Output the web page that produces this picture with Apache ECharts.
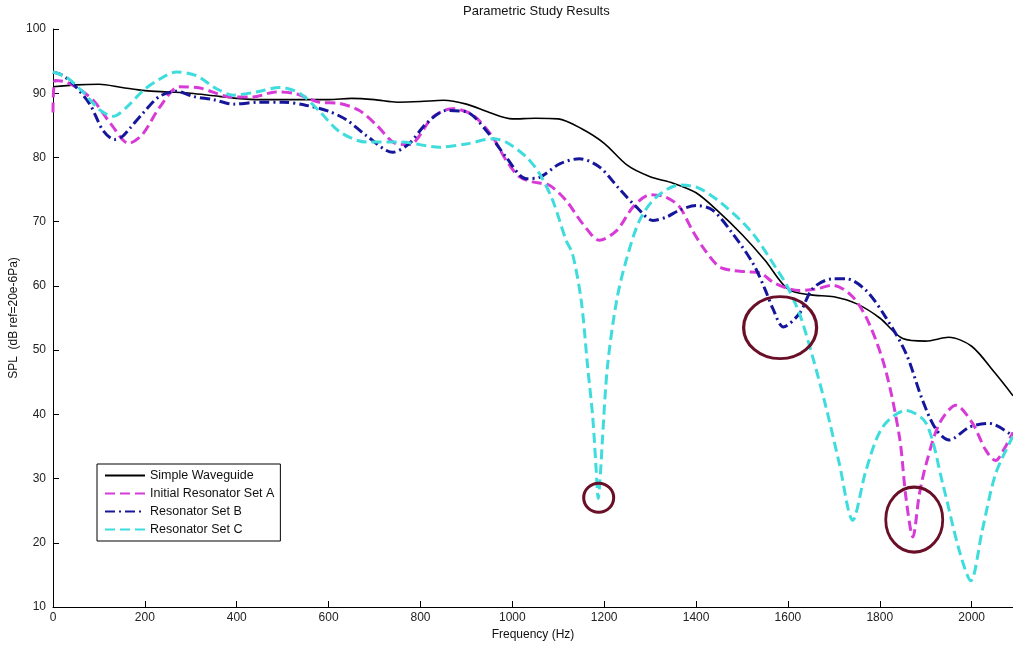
<!DOCTYPE html>
<html>
<head>
<meta charset="utf-8">
<script src="https://cdn.jsdelivr.net/npm/echarts@6/dist/echarts.min.js"></script>
<style>
html,body{margin:0;padding:0;background:#fff;}
#chart{width:1013px;height:646px;}
</style>
</head>
<body>
<div id="chart"></div>
<script>
// ---- Data ----
const seriesNames = ['Simple Waveguide', 'Initial Resonator Set A', 'Resonator Set B', 'Resonator Set C'];
const xTicks = [0, 200, 400, 600, 800, 1000, 1200, 1400, 1600, 1800, 2000];
const yTicks = [10, 20, 30, 40, 50, 60, 70, 80, 90, 100];

const freqSimple = [0,50,100,150,200,250,300,350,400,450,500,550,600,650,700,750,800,850,900,950,1000,1050,1100,1150,1200,1250,1300,1350,1400,1450,1500,1550,1600,1650,1700,1750,1800,1850,1900,1950,2000,2050,2090];
const splSimple  = [91.0,91.3,91.4,90.9,90.4,90.2,90.0,89.6,89.2,89.0,89.0,89.0,89.0,89.2,89.0,88.6,88.7,88.9,88.3,87.0,86.0,86.1,86.0,84.5,82.2,78.8,77.0,76.0,74.5,71.5,68.0,64.0,59.5,58.6,58.3,57.2,55.0,51.8,51.4,52.0,50.6,46.5,42.9];

const freqSetA = [0,5,30,60,90,125,165,195,232,275,320,390,435,485,530,580,625,667,705,745,776,827,870,914,957,986,1015,1044,1080,1117,1153,1190,1227,1263,1300,1335,1364,1393,1420,1450,1480,1510,1540,1567,1600,1625,1660,1697,1741,1777,1813,1843,1857,1872,1886,1901,1930,1966,2002,2030,2052,2070,2090];
const splSetA  = [87.0,92.0,91.7,90.5,88.7,85.3,82.2,83.6,87.8,91.0,90.8,89.4,89.4,90.2,89.9,88.6,88.4,87.3,85.0,82.2,82.0,86.3,87.6,86.6,83.2,79.6,77.0,76.2,75.7,73.3,69.7,67.1,68.6,72.3,74.2,73.8,72.3,68.5,65.5,63.0,62.4,62.2,62.0,60.6,59.6,59.3,59.5,60.1,58.3,54.1,46.8,36.4,27.0,20.9,27.5,32.3,38.6,41.4,38.6,34.5,32.8,34.5,37.2];

const freqSetB = [0,20,43,80,109,134,150,167,196,232,269,305,349,392,450,501,552,600,640,682,740,776,813,856,900,943,986,1030,1059,1103,1146,1190,1233,1270,1306,1335,1364,1400,1436,1480,1524,1550,1567,1590,1625,1654,1697,1727,1770,1813,1857,1893,1922,1951,1995,2038,2090];
const splSetB  = [93.3,92.8,91.5,88.3,84.2,82.8,83.2,84.5,86.9,89.5,90.3,89.5,89.0,88.3,88.6,88.6,88.1,87.2,85.8,83.4,80.8,82.2,85.3,87.3,87.1,84.2,80.1,76.7,76.9,79.0,79.8,78.5,75.1,72.3,70.2,70.7,71.8,72.5,71.8,68.1,63.5,59.5,56.5,53.6,55.7,59.6,61.1,61.1,59.3,55.1,49.5,42.2,37.7,36.0,38.0,38.6,36.6];

const freqSetC = [0,29,65,102,131,160,196,232,269,313,356,392,443,493,537,580,624,682,755,842,900,957,986,1030,1059,1088,1117,1131,1150,1164,1175,1182,1187,1192,1196,1207,1227,1248,1277,1313,1364,1407,1465,1524,1582,1596,1625,1654,1683,1712,1741,1770,1806,1857,1901,1937,1973,1998,2023,2052,2090];
const splSetC  = [93.3,92.5,90.2,87.4,86.4,87.8,90.4,92.2,93.3,92.7,90.7,89.7,90.2,90.9,90.0,87.2,84.0,82.4,82.4,81.6,82.1,82.9,82.4,80.1,77.5,73.3,67.1,65.0,57.7,47.4,39.6,32.0,26.9,31.0,35.9,47.4,57.7,64.0,70.2,73.8,75.7,75.2,72.3,68.1,61.9,60.3,55.7,48.9,41.1,32.3,23.5,31.3,38.0,40.6,38.6,29.2,18.8,14.1,21.9,30.7,36.6];

// annotation ellipses (centres in data units)
const markFreq = [1583, 1188, 1875];
const markSpl  = [53.5, 27.0, 23.6];

// ---- Chart ----
const zip = (xs, ys) => xs.map((x, i) => [x, ys[i]]);
const FONT = "'Liberation Sans', Arial, sans-serif";
const ellipseSizes = [[73, 62], [30, 29], [57, 65]];

const chart = echarts.init(document.getElementById('chart'), null, {renderer: 'canvas'});
const lineBase = {type: 'line', symbol: 'none', showSymbol: false, smooth: 0.3, animation: false, z: 3};

chart.setOption({
  animation: false,
  backgroundColor: '#ffffff',
  title: {
    text: 'Parametric Study Results',
    left: 458, top: 0,
    textStyle: {fontFamily: FONT, fontSize: 13, fontWeight: 'normal', color: '#111'}
  },
  grid: {left: 53, right: 0, top: 29, bottom: 39, containLabel: false, outerBoundsMode: 'none'},
  legend: {
    data: seriesNames,
    orient: 'vertical',
    left: 97, top: 464,
    itemWidth: 40, itemHeight: 14, itemGap: 5,
    padding: [5, 6, 5, 7],
    borderColor: '#000', borderWidth: 1,
    backgroundColor: '#fff',
    itemStyle: {opacity: 0},
    textStyle: {fontFamily: FONT, fontSize: 12.5, color: '#111'},
    selectedMode: false
  },
  xAxis: {
    type: 'value', min: 0, max: 2090, interval: 200,
    name: 'Frequency (Hz)', nameLocation: 'middle', nameGap: 22, nameMoveOverlap: false,
    nameTextStyle: {fontFamily: FONT, fontSize: 12, color: '#111'},
    axisLine: {show: true, lineStyle: {color: '#000', width: 1}},
    axisTick: {show: true, inside: true, length: 6, lineStyle: {color: '#000'}},
    axisLabel: {
      fontFamily: FONT, fontSize: 12, color: '#222', margin: 5, showMaxLabel: false,
      formatter: v => (xTicks.indexOf(v) >= 0 ? String(v) : '')
    },
    splitLine: {show: false}
  },
  yAxis: {
    type: 'value', min: 10, max: 100, interval: 10,
    name: 'SPL  (dB ref=20e-6Pa)', nameLocation: 'middle', nameGap: 33, nameMoveOverlap: false,
    nameTextStyle: {fontFamily: FONT, fontSize: 12, color: '#111'},
    axisLine: {show: true, lineStyle: {color: '#000', width: 1}},
    axisTick: {show: true, inside: true, length: 6, lineStyle: {color: '#000'}},
    axisLabel: {
      fontFamily: FONT, fontSize: 12, color: '#222', margin: 7,
      formatter: v => (yTicks.indexOf(v) >= 0 ? String(v) : '')
    },
    splitLine: {show: false}
  },
  series: [
    Object.assign({}, lineBase, {
      name: seriesNames[0], data: zip(freqSimple, splSimple), z: 2,
      itemStyle: {color: '#000000'},
      lineStyle: {color: '#000000', width: 1.6, type: 'solid'}
    }),
    Object.assign({}, lineBase, {
      name: seriesNames[1], data: zip(freqSetA, splSetA),
      itemStyle: {color: '#d83ad8'},
      lineStyle: {color: '#d83ad8', width: 3, type: [10, 5]}
    }),
    Object.assign({}, lineBase, {
      name: seriesNames[2], data: zip(freqSetB, splSetB),
      itemStyle: {color: '#16169c'},
      lineStyle: {color: '#16169c', width: 3, type: [10, 4, 2, 4]}
    }),
    Object.assign({}, lineBase, {
      name: seriesNames[3], data: zip(freqSetC, splSetC),
      itemStyle: {color: '#3edcdc'},
      lineStyle: {color: '#3edcdc', width: 3, type: [10, 5]}
    }),
    {
      type: 'scatter', name: 'marks', animation: false, z: 5,
      data: zip(markFreq, markSpl),
      symbol: 'circle',
      symbolSize: (val, params) => ellipseSizes[params.dataIndex],
      itemStyle: {color: 'rgba(0,0,0,0)', borderColor: '#6a0f28', borderWidth: 3, opacity: 1},
      emphasis: {disabled: true},
      silent: true
    }
  ]
});
</script>
</body>
</html>
